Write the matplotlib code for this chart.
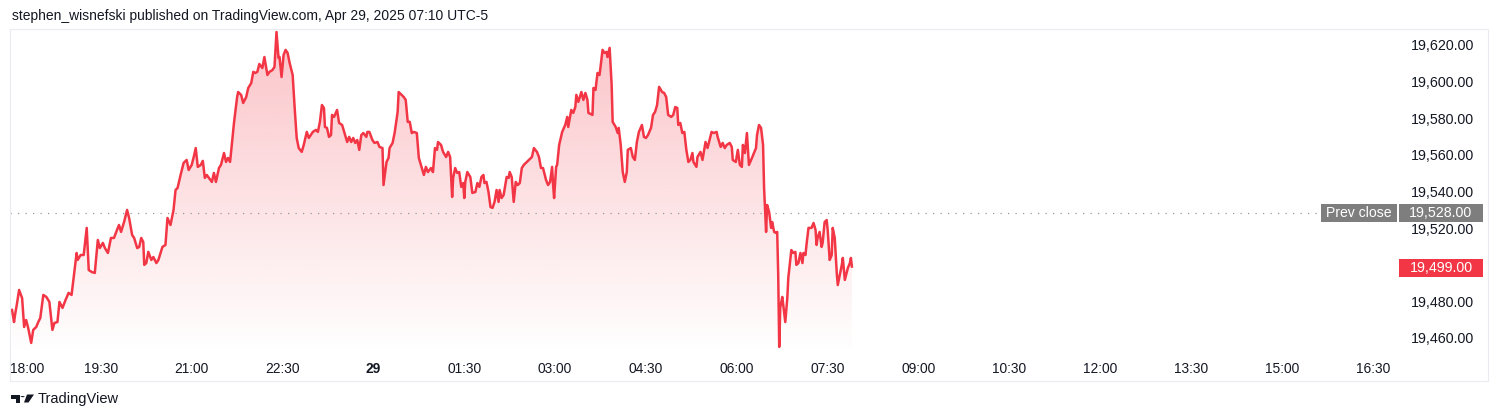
import numpy as np
import matplotlib
matplotlib.use("Agg")
import matplotlib.pyplot as plt
from matplotlib.colors import to_rgb
from matplotlib.patches import Rectangle, Polygon, Circle

# NQ futures, minutes since 18:00 (Apr 28) and last price
min_evening = [2, 4, 5, 7, 9, 12, 14, 16, 18, 21, 23, 26, 28, 30, 33, 36, 39, 42, 44, 47,
               49, 52, 55, 58, 61, 63, 64, 66, 67, 70, 73, 76, 78, 81, 84, 87, 89, 92, 94, 97,
               100, 103, 106, 108, 110, 113, 116, 118, 121, 123, 126, 128]
px_evening = [19475.3, 19468.7, 19472.6, 19479.1, 19486.2, 19481.8, 19466.0, 19469.8, 19465.5, 19457.3,
              19464.4, 19466.0, 19468.7, 19470.9, 19483.5, 19482.4, 19479.7, 19464.4, 19468.2, 19468.7,
              19479.7, 19476.4, 19480.7, 19484.6, 19483.5, 19492.8, 19497.1, 19506.4, 19502.6, 19505.3,
              19505.3, 19520.1, 19497.1, 19496.0, 19495.5, 19513.5, 19509.1, 19511.9, 19509.1, 19506.4,
              19514.6, 19514.6, 19519.0, 19521.7, 19517.9, 19523.3, 19529.9, 19525.5, 19516.2, 19514.6,
              19509.1, 19509.7]

min_rally = [130, 132, 133, 135, 137, 140, 142, 145, 147, 151, 154, 156, 159, 162, 164, 166, 169, 172,
             175, 177, 180, 182, 184, 186, 189, 191, 193, 195, 197, 200, 202, 204, 207, 209, 212, 214,
             216, 218, 220, 222, 225, 226, 229, 231, 234, 236, 239, 241, 243, 245, 247, 250, 252, 255,
             257, 260, 262, 263, 264, 266, 267]
px_rally = [19514.6, 19512.4, 19499.9, 19500.9, 19507.0, 19502.6, 19504.2, 19500.9, 19502.6, 19509.7,
            19510.8, 19525.5, 19521.7, 19529.9, 19540.8, 19541.9, 19549.0, 19555.6, 19557.2, 19551.7,
            19554.5, 19558.8, 19563.7, 19553.4, 19554.5, 19556.7, 19547.4, 19549.0, 19547.4, 19545.2,
            19550.1, 19545.2, 19552.8, 19554.5, 19561.0, 19556.1, 19558.3, 19556.1, 19567.0, 19578.0,
            19591.6, 19594.3, 19592.7, 19588.3, 19591.6, 19596.5, 19599.2, 19605.3, 19604.7, 19605.3,
            19609.6, 19607.4, 19613.4, 19603.6, 19605.3, 19606.3, 19608.0, 19617.3, 19627.1, 19612.9,
            19613.4]

min_midnight = [269, 271, 273, 275, 277, 280, 282, 284, 286, 289, 291, 294, 296, 300, 303, 305, 307,
                309, 311, 312, 314, 316, 318, 319, 321, 324, 326, 329, 331, 334, 336, 338, 340, 342,
                344, 346, 348, 350, 353, 354, 356, 359, 361, 364, 366, 369, 370, 373, 375, 376, 379,
                381, 384, 385, 388, 390, 392, 394, 396, 398, 400, 403, 405, 407]
px_midnight = [19602.5, 19614.5, 19617.3, 19615.6, 19610.2, 19603.6, 19585.6, 19569.2, 19563.7, 19561.6,
               19565.4, 19572.5, 19569.2, 19572.5, 19573.6, 19572.5, 19578.0, 19587.2, 19585.6, 19575.2,
               19574.7, 19569.8, 19570.8, 19581.8, 19580.7, 19584.5, 19577.4, 19576.3, 19572.5, 19567.0,
               19569.8, 19567.0, 19569.2, 19566.5, 19568.1, 19562.7, 19570.8, 19571.9, 19569.8, 19572.5,
               19572.5, 19568.1, 19566.5, 19567.0, 19564.3, 19563.7, 19543.5, 19556.1, 19558.3, 19563.7,
               19566.5, 19571.9, 19583.4, 19594.3, 19592.7, 19591.6, 19590.0, 19578.0, 19578.0, 19571.9,
               19572.5, 19571.9, 19558.3, 19554.5]

min_early = [410, 412, 414, 417, 419, 421, 423, 424, 427, 429, 432, 434, 436, 438, 439, 441, 443, 445,
             447, 449, 450, 451, 453, 456, 458, 461, 463, 465, 467, 469, 470, 472, 474, 476, 478, 480,
             482, 484, 485, 487, 489, 492, 494, 495, 497, 499, 501, 503, 505, 507, 509, 512, 514, 517,
             519, 522, 524, 526, 528, 531, 533, 535, 537, 538, 539, 541, 542, 544]
px_early = [19549.0, 19553.4, 19550.6, 19552.8, 19550.6, 19563.7, 19562.7, 19567.0, 19565.4, 19561.6,
            19558.8, 19561.6, 19558.8, 19537.0, 19547.4, 19552.8, 19550.1, 19550.6, 19542.5, 19544.6,
            19536.4, 19545.2, 19550.6, 19547.9, 19539.2, 19539.7, 19544.6, 19542.5, 19547.9, 19549.0,
            19544.6, 19545.2, 19539.7, 19531.5, 19531.0, 19534.3, 19540.8, 19534.3, 19540.8, 19536.4,
            19538.1, 19547.9, 19547.4, 19550.6, 19547.9, 19534.3, 19545.2, 19543.5, 19544.6, 19552.8,
            19554.5, 19556.1, 19557.2, 19558.8, 19563.7, 19561.6, 19558.8, 19552.8, 19552.8, 19546.3,
            19543.5, 19545.2, 19553.4, 19543.5, 19536.4, 19553.4, 19554.5, 19565.4]

min_europe = [547, 550, 552, 553, 556, 558, 560, 561, 563, 566, 568, 570, 572, 573, 577, 578, 580, 582,
              584, 585, 587, 589, 591, 592, 594, 596, 597, 600, 602, 603, 605, 607, 609, 611, 612, 615,
              617, 619, 621, 623, 626, 628, 630, 632, 635, 637, 639, 641, 643, 646, 648, 650, 652, 655,
              657, 659, 661, 662, 664, 666, 668, 670, 672, 674, 676, 677, 680, 681, 684, 686]
px_europe = [19572.5, 19576.3, 19580.7, 19575.2, 19584.5, 19582.9, 19586.1, 19592.7, 19588.9, 19594.3,
             19590.0, 19593.8, 19590.0, 19582.9, 19581.8, 19596.5, 19595.4, 19604.7, 19603.6, 19608.0,
             19617.3, 19615.6, 19616.2, 19613.4, 19618.4, 19598.2, 19578.0, 19575.2, 19571.9, 19574.7,
             19565.4, 19550.6, 19545.2, 19550.6, 19562.7, 19563.7, 19558.8, 19557.2, 19567.0, 19572.5,
             19576.3, 19569.8, 19569.2, 19570.8, 19574.7, 19581.8, 19583.4, 19587.2, 19597.1, 19594.3,
             19593.8, 19591.6, 19581.8, 19580.7, 19581.8, 19586.1, 19585.6, 19576.3, 19577.4, 19571.9,
             19572.5, 19562.7, 19556.1, 19557.2, 19561.0, 19556.1, 19553.4, 19558.8, 19561.6, 19557.2]

min_morning = [689, 691, 693, 695, 697, 700, 701, 704, 706, 708, 710, 713, 715, 716, 719, 721, 723, 725,
               726, 728, 730, 732, 735, 737, 739, 740, 742, 744, 746, 747, 749, 750, 752, 754, 755, 757,
               759, 760, 761, 762, 763, 765, 766, 768, 770, 771, 774, 776, 778, 779, 781, 783, 785, 786,
               788, 789, 791, 794, 796, 798, 799, 800, 802, 804, 805, 807, 809, 810, 812, 814, 815, 817,
               819, 820, 822, 824, 825, 827, 829, 830, 832, 833, 834]
px_morning = [19567.0, 19563.7, 19568.1, 19572.5, 19571.9, 19572.5, 19569.8, 19564.3, 19566.5, 19563.7,
              19565.4, 19566.5, 19564.3, 19557.2, 19556.1, 19562.7, 19554.5, 19553.4, 19565.4, 19561.0,
              19571.9, 19554.5, 19558.3, 19561.0, 19563.7, 19570.8, 19576.3, 19574.7, 19565.4, 19541.9,
              19517.9, 19532.6, 19528.8, 19520.1, 19523.3, 19517.9, 19517.3, 19517.9, 19494.4, 19455.1,
              19476.4, 19482.4, 19478.0, 19468.7, 19481.8, 19492.8, 19508.0, 19506.4, 19507.0, 19499.9,
              19500.9, 19506.4, 19500.9, 19506.4, 19505.3, 19510.8, 19520.1, 19520.1, 19522.8, 19519.0,
              19510.8, 19514.6, 19517.9, 19509.7, 19511.9, 19523.3, 19524.4, 19519.0, 19502.6, 19505.3,
              19520.1, 19514.6, 19495.5, 19488.9, 19494.4, 19499.9, 19503.7, 19491.7, 19496.0, 19498.2,
              19500.9, 19503.7, 19499.0]

prev_close = 19528.0
last_price = 19499.0

time_ticks = [0, 90, 180, 270, 360, 450, 540, 630, 720, 810, 900, 990, 1080, 1170, 1260, 1350]
time_labels = ['18:00', '19:30', '21:00', '22:30', '29', '01:30', '03:00', '04:30', '06:00', '07:30',
               '09:00', '10:30', '12:00', '13:30', '15:00', '16:30']
price_ticks = [19460, 19480, 19500, 19520, 19540, 19560, 19580, 19600, 19620]

header = 'stephen_wisnefski published on TradingView.com, Apr 29, 2025 07:10 UTC-5'

minutes = min_evening + min_rally + min_midnight + min_early + min_europe + min_morning
prices = px_evening + px_rally + px_midnight + px_early + px_europe + px_morning
assert len(minutes) == len(prices)

# ---- layout helpers (pixel positions on a 1500x420 canvas) ----
W, H = 1500, 420
def fx(px):
    return px / W
def fy(py):
    return 1 - py / H

RED = '#F23645'
TXT = '#131722'
plt.rcParams['font.family'] = ['Liberation Sans', 'DejaVu Sans']

fig = plt.figure(figsize=(15, 4.2), dpi=100)
fig.patch.set_facecolor('white')

ax = fig.add_axes([fx(10), fy(355), fx(1395) - fx(10), fy(29) - fy(355)])
ymin, ymax = 19450.7, 19628.7
xmin, xmax = 1, 1372

# gradient area under the line
poly = Polygon(list(zip(minutes, prices)) + [(minutes[-1], ymin), (minutes[0], ymin)],
               closed=True, facecolor='none', edgecolor='none')
ax.add_patch(poly)
grad = np.zeros((256, 1, 4))
grad[..., :3] = to_rgb(RED)
grad[..., 3] = np.linspace(0.30, 0.0, 256)[:, None]
im = ax.imshow(grad, extent=[minutes[0], minutes[-1], ymin, ymax], aspect='auto',
               origin='upper', zorder=1, interpolation='bilinear')
im.set_clip_path(poly)

ax.axhline(prev_close, color='#9598A1', lw=0.9, ls=(0, (1, 5)), zorder=2)
ax.plot(minutes, prices, color=RED, lw=1.8, solid_joinstyle='round', zorder=3)

ax.set_xlim(xmin, xmax)
ax.set_ylim(ymin, ymax)
for s in ax.spines.values():
    s.set_visible(False)

ax.set_xticks(time_ticks, time_labels)
ax.tick_params(axis='x', length=0, pad=5, labelsize=9.9, labelcolor=TXT)
xl = ax.get_xticklabels()
xl[0].set_ha('left')
xl[4].set_fontweight('bold')

ax.yaxis.tick_right()
ax.set_yticks(price_ticks, [f'{v:,.2f}' for v in price_ticks])
ax.tick_params(axis='y', length=0, pad=11.5, labelsize=10.3, labelcolor=TXT)

# price tags on the right scale
ytr = ax.get_yaxis_transform()
ax_w = 1385.0
def axx(px):
    return (px - 10) / ax_w
box_h = 9.8
ax.add_patch(Rectangle((axx(1321), prev_close - box_h / 2), axx(1397) - axx(1321), box_h,
                       transform=ytr, clip_on=False, facecolor='#7E7E7E', edgecolor='none', zorder=5))
ax.add_patch(Rectangle((axx(1399), prev_close - box_h / 2), axx(1483) - axx(1399), box_h,
                       transform=ytr, clip_on=False, facecolor='#7E7E7E', edgecolor='none', zorder=5))
ax.text(axx(1359), prev_close, 'Prev close', transform=ytr, ha='center', va='center',
        color='white', fontsize=10.1, zorder=6, clip_on=False)
ax.text(axx(1441), prev_close, f'{prev_close:,.2f}', transform=ytr, ha='center', va='center',
        color='white', fontsize=10.3, zorder=6, clip_on=False)
ax.add_patch(Rectangle((axx(1399), last_price - box_h / 2 - 0.7), axx(1483) - axx(1399), box_h,
                       transform=ytr, clip_on=False, facecolor=RED, edgecolor='none', zorder=5))
ax.text(axx(1441), last_price - 0.7, f'{last_price:,.2f}', transform=ytr, ha='center', va='center',
        color='white', fontsize=10.3, zorder=6, clip_on=False)

# outer frame
fig.add_artist(Rectangle((fx(10), fy(381)), fx(1488) - fx(10), fy(29) - fy(381),
                         transform=fig.transFigure, facecolor='none', edgecolor='#E9EBF0', lw=0.8))

# header and footer
fig.text(fx(12), fy(16), header, ha='left', va='center', fontsize=10.0, color=TXT)

logo = '#131722'
fig.add_artist(Polygon([(fx(11), fy(394.5)), (fx(20), fy(394.5)), (fx(20), fy(402.5)), (fx(16), fy(402.5)),
                        (fx(16), fy(398.5)), (fx(11), fy(398.5))], closed=True,
                       transform=fig.transFigure, facecolor=logo, edgecolor='none'))
fig.add_artist(Circle((fx(22.6), fy(396.6)), 2.0 / W, transform=fig.transFigure,
                      facecolor=logo, edgecolor='none'))
fig.add_artist(Polygon([(fx(27), fy(394.5)), (fx(34), fy(394.5)), (fx(28.5), fy(402.5)), (fx(24), fy(402.5))],
                       closed=True, transform=fig.transFigure, facecolor=logo, edgecolor='none'))
fig.text(fx(38), fy(399), 'TradingView', ha='left', va='center', fontsize=10.5, color=logo)

fig.savefig('out.png', dpi=100, facecolor='white')
